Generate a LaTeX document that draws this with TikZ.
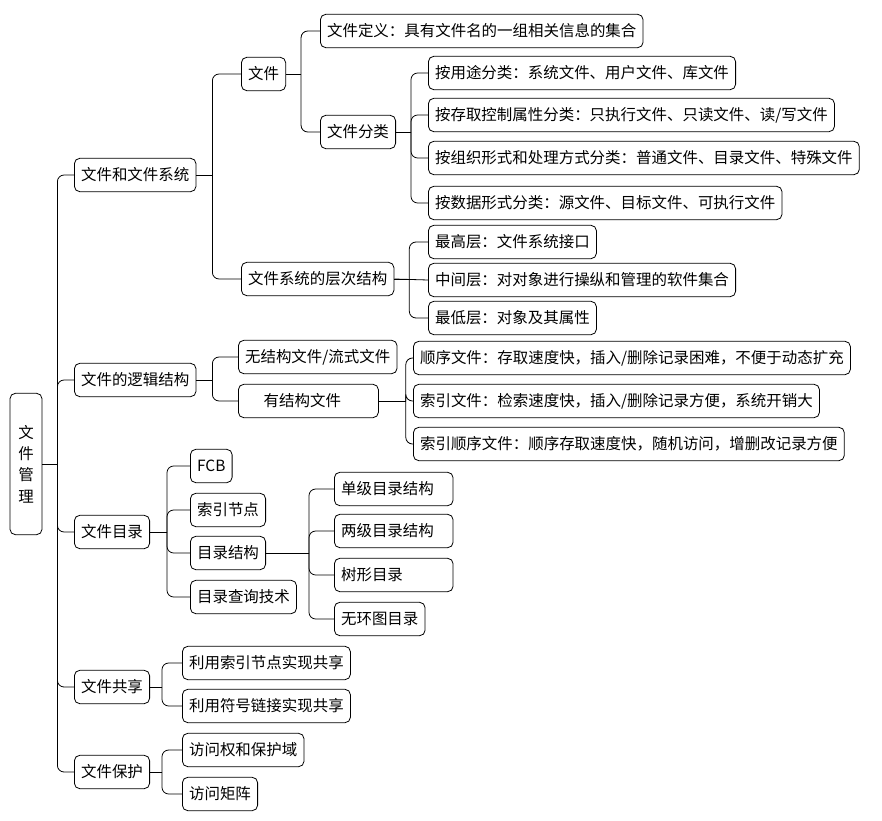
\documentclass[tikz,border=0pt]{standalone}
\usepackage{fontspec}
\setmainfont{Noto Sans CJK SC}
\begin{document}
\begin{tikzpicture}[x=0.75pt,y=-0.75pt]
\tikzstyle{box}=[draw,rectangle,rounded corners=4pt,anchor=west,inner xsep=5pt,minimum height=25pt,font=\fontsize{11.6}{13}\selectfont,line width=0.6pt]
\tikzstyle{link}=[draw,rounded corners=5pt,line width=0.6pt]
\useasboundingbox (0,0) rectangle (882,821);
% root
\node[box,anchor=center,align=center,minimum width=24pt,minimum height=106pt] (root) at (26,464) {文\\[3pt]件\\[3pt]管\\[3pt]理};
% level 1
\node[box] (fsys) at (74,175) {文件和文件系统};
\node[box] (logic) at (74,380) {文件的逻辑结构};
\node[box] (dir) at (74,532) {文件目录};
\node[box] (share) at (74,687) {文件共享};
\node[box] (prot) at (74,772) {文件保护};
% file and file system
\node[box] (file) at (241,74) {文件};
\node[box] (layer) at (241,279) {文件系统的层次结构};
\node[box] (fdef) at (320,31) {文件定义：具有文件名的一组相关信息的集合};
\node[box] (fcls) at (320,132) {文件分类};
\node[box] (c1) at (428,73) {按用途分类：系统文件、用户文件、库文件};
\node[box] (c2) at (428,115) {按存取控制属性分类：只执行文件、只读文件、读/写文件};
\node[box] (c3) at (428,158) {按组织形式和处理方式分类：普通文件、目录文件、特殊文件};
\node[box] (c4) at (428,203) {按数据形式分类：源文件、目标文件、可执行文件};
\node[box] (l1) at (428,242) {最高层：文件系统接口};
\node[box] (l2) at (428,280) {中间层：对对象进行操纵和管理的软件集合};
\node[box] (l3) at (428,318) {最低层：对象及其属性};
% logical structure
\node[box,text width=109pt] (nostr) at (238,357) {无结构文件/流式文件};
\node[box,text width=95pt] (str) at (238,401) {\hspace{14pt}有结构文件};
\node[box] (s1) at (413,358) {顺序文件：存取速度快，插入/删除记录困难，不便于动态扩充};
\node[box] (s2) at (413,401) {索引文件：检索速度快，插入/删除记录方便，系统开销大};
\node[box] (s3) at (413,444) {索引顺序文件：顺序存取速度快，随机访问，增删改记录方便};
% directory
\node[box] (fcb) at (190,466) {FCB};
\node[box] (inode) at (190,510) {索引节点};
\node[box] (dstr) at (190,553) {目录结构};
\node[box] (dq) at (190,597) {目录查询技术};
\node[box,text width=79pt] (d1) at (334,489) {单级目录结构};
\node[box,text width=79pt] (d2) at (334,531) {两级目录结构};
\node[box,text width=79pt] (d3) at (334,575) {树形目录};
\node[box] (d4) at (334,619) {无环图目录};
% share / protect
\node[box] (sh1) at (182,663) {利用索引节点实现共享};
\node[box] (sh2) at (182,706) {利用符号链接实现共享};
\node[box] (p1) at (182,750) {访问权和保护域};
\node[box] (p2) at (182,794) {访问矩阵};
% connectors
\newcommand\fork[3]{%
  \path[link] (#1.east) -- ++(#2,0) coordinate (b#1);
  \foreach \c in {#3} \path[link] (b#1) |- (\c.west);}
\fork{root}{15}{fsys,logic,dir,share,prot}
\fork{fsys}{16}{file,layer}
\fork{file}{15}{fdef,fcls}
\fork{fcls}{15}{c1,c2,c3,c4}
\fork{layer}{15}{l1,l3}
\path[link] (layer.east) -- (l2.west);
\fork{logic}{16}{nostr,str}
\fork{str}{27}{s1,s2,s3}
\fork{dir}{17}{fcb,inode,dstr,dq}
\fork{dstr}{43}{d1,d2,d3,d4}
\fork{share}{12}{sh1,sh2}
\fork{prot}{12}{p1,p2}
\end{tikzpicture}
\end{document}
